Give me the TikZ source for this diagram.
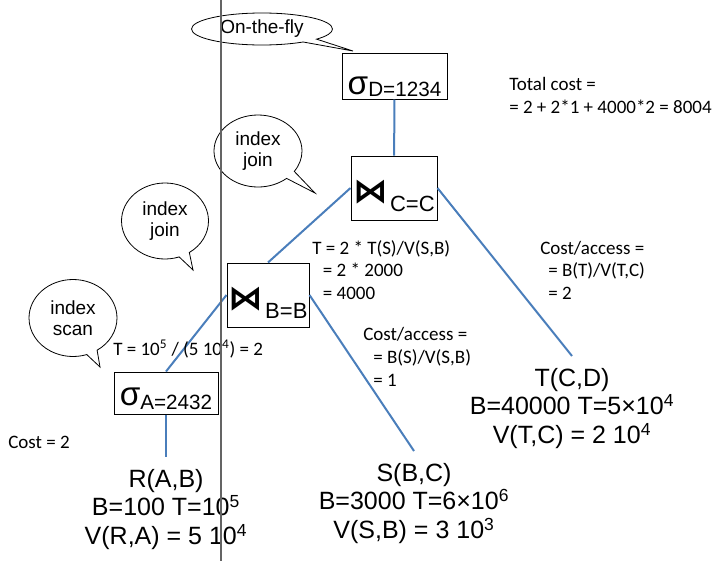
\documentclass[tikz,border=0pt]{standalone}
\usepackage{fontspec}
\setmainfont{Liberation Sans}
\newfontfamily\calfont{Carlito}
\newfontfamily\symfont{DejaVu Sans}
\usepackage{graphicx}
\usepackage{tikz}
\usetikzlibrary{shapes.callouts, positioning}
\definecolor{edgeblue}{RGB}{74,126,187}
\definecolor{divgray}{RGB}{100,100,100}
\newcommand{\bowsym}{\resizebox*{26pt}{18pt}{\symfont\bfseries ⋈}}
\newcommand{\sellabel}[3]{\raisebox{#3}[0pt][0pt]{{\fontsize{25}{25}\selectfont σ}\raisebox{#2}{\fontsize{15.5}{15.5}\selectfont #1}}}
\newcommand{\joinlabel}[1]{\raisebox{-11pt}[0pt][0pt]{\bowsym\hspace{1.5pt}\raisebox{-6.25pt}{\fontsize{16.5}{16.5}\selectfont #1}}}
\tikzset{
  opbox/.style={rectangle, draw=black, fill=white, line width=0.75pt, inner sep=0pt},
  relnode/.style={align=center, font=\fontsize{18.75}{21.4}\selectfont,
    inner xsep=2pt, inner ysep=9pt},
  costnote/.style={align=left, font=\calfont\fontsize{14.25}{16.6}\selectfont, inner sep=0pt},
  bubble/.style={ellipse callout, draw=black, fill=white, line width=0.6pt,
    inner sep=0pt, align=center, font=\fontsize{14.25}{15.75}\selectfont},
  treeedge/.style={edgeblue, line width=1.5pt},
  divider/.style={divgray, line width=1.5pt}
}

\begin{document}
\begin{tikzpicture}[x=0.75pt, y=-0.75pt]
  \useasboundingbox (0,0) rectangle (714,561);

  % Operators
  \node[opbox, minimum width=78.75pt, minimum height=34.5pt] (selD) at (394.5,76) {\sellabel{D=1234}{-1pt}{-14pt}};
  \node[opbox, minimum width=64.5pt, minimum height=48pt] (joinC) at (394,188) {\joinlabel{C=C}};
  \node[opbox, minimum width=61.5pt, minimum height=48pt] (joinB) at (268,295) {\joinlabel{B=B}};
  \node[opbox, minimum width=78pt, minimum height=31.5pt] (selA) at (166,393) {\sellabel{A=2432}{-3.5pt}{-9pt}};

  % Relations
  \node[relnode, anchor=north] (relR) at (166,457) {R(A,B)\\B=100 T=10\textsuperscript{5}\\V(R,A) = 5 10\textsuperscript{4}};
  \node[relnode, anchor=north] (relS) at (414,451) {S(B,C)\\B=3000 T=6×10\textsuperscript{6}\\V(S,B) = 3 10\textsuperscript{3}};
  \node[relnode, anchor=north] (relT) at (572,356) {T(C,D)\\B=40000 T=5×10\textsuperscript{4}\\V(T,C) = 2 10\textsuperscript{4}};

  % Edges
  \draw[treeedge] (selD) -- (joinC);
  \draw[treeedge] (joinC.west) -- (joinB.north);
  \draw[treeedge] (joinC.east) -- (relT.north);
  \draw[treeedge] (joinB.west) -- (selA.north);
  \draw[treeedge] (joinB.east) -- (relS.north);
  \draw[treeedge] (selA) -- (relR);

  % Cost notes (base = last line)
  \node[costnote, anchor=base west] (totalcost) at (509,113) {Total cost =\\= 2 + 2*1 + 4000*2 = 8004};
  \node[costnote, anchor=base west] (joinsize) at (312,299) {T = 2 * T(S)/V(S,B)\\\hspace*{8pt}= 2 * 2000\\\hspace*{8pt}= 4000};
  \node[costnote, anchor=base west, font=\calfont\fontsize{14.25}{17.2}\selectfont] (accessS) at (363,386) {Cost/access =\\\hspace*{7.5pt}= B(S)/V(S,B)\\\hspace*{7.5pt}= 1};
  \node[costnote, anchor=base west] (accessT) at (540,299) {Cost/access =\\\hspace*{6pt}= B(T)/V(T,C)\\\hspace*{6pt}= 2};
  \node[costnote, anchor=base west] (selsize) at (113,355) {T = 10\textsuperscript{5} / (5 10\textsuperscript{4}) = 2};
  \node[costnote, anchor=base west] (scancost) at (8,448) {Cost = 2};

  % Callouts
  \node[bubble, minimum width=105.75pt, minimum height=24pt, callout absolute pointer={(353,51)}] (flynote) at (262,29) {On-the-fly};
  \node[bubble, minimum width=66pt, minimum height=54pt, callout absolute pointer={(315,193)}] (joinnoteC) at (258,151) {index\\join};
  \node[bubble, minimum width=65.25pt, minimum height=57pt, callout absolute pointer={(193,270)}] (joinnoteB) at (165,221) {index\\join};
  \node[bubble, minimum width=66pt, minimum height=57.75pt, callout absolute pointer={(100,367)}] (scannote) at (73,318) {index\\scan};

  % Divider
  \coordinate (divtop) at (221,0);
  \coordinate (divbot) at (221,561);
  \draw[divider] (divtop) -- (divbot);
\end{tikzpicture}
\end{document}
